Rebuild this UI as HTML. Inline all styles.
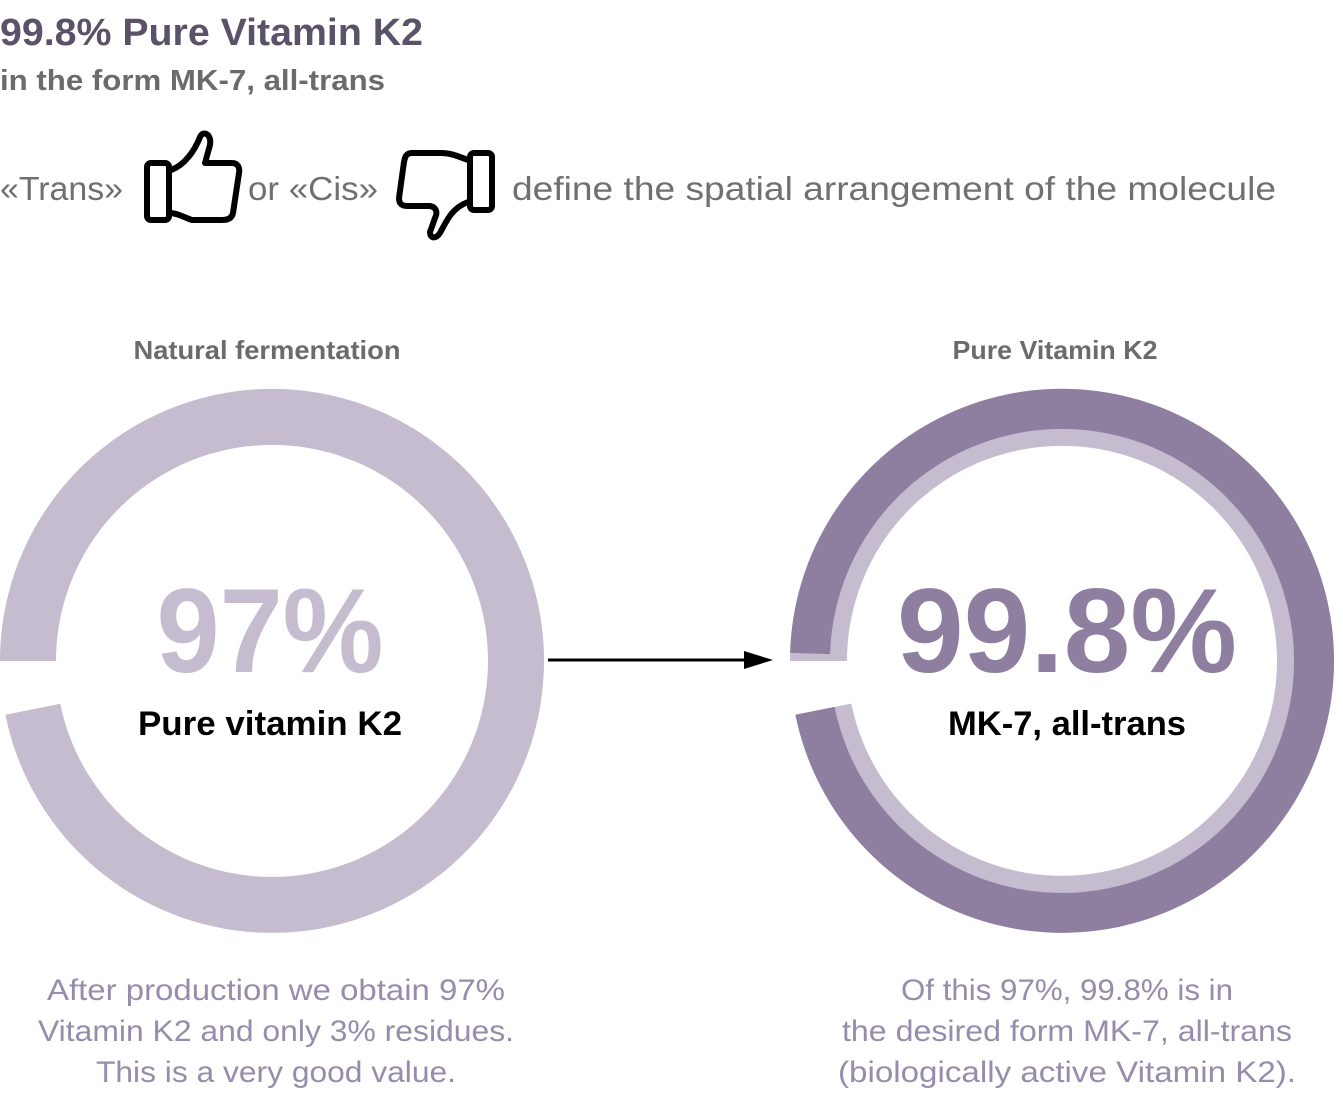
<!DOCTYPE html>
<html><head><meta charset="utf-8"><style>
html,body{margin:0;padding:0;background:#fff;}
svg{display:block;}
</style></head><body>
<svg width="1343" height="1114" viewBox="0 0 1343 1114" xmlns="http://www.w3.org/2000/svg" font-family="Liberation Sans, sans-serif">
<text x="0" y="45" font-size="38" font-weight="bold" fill="#5b5168" textLength="423" lengthAdjust="spacingAndGlyphs">99.8% Pure Vitamin K2</text>
<text x="0" y="90" font-size="29" font-weight="bold" fill="#6b6b6b" textLength="385" lengthAdjust="spacingAndGlyphs">in the form MK-7, all-trans</text>
<text x="0" y="200" font-size="33" fill="#707070" textLength="123" lengthAdjust="spacingAndGlyphs">«Trans»</text>
<text x="248" y="200" font-size="33" fill="#707070" textLength="130" lengthAdjust="spacingAndGlyphs">or «Cis»</text>
<text x="512" y="200" font-size="33" fill="#707070" textLength="764" lengthAdjust="spacingAndGlyphs">define the spatial arrangement of the molecule</text>
<g fill="none" stroke="#000" stroke-width="6" stroke-linejoin="round">
<rect x="147" y="163" width="22" height="57" rx="4"/>
<path d="M171 170 C185 165 195 150 200 137 C203 130 212 134 210 145 L205 163 L232 163 C238 163 240 168 239 173 L233 213 C232 218 228 220 222 220 L192 220 C185 218 180 214 171 213"/>
<rect x="470" y="153" width="22" height="57" rx="4"/>
<path d="M468 160 C455 155 450 153 440 153 L412 153 C406 153 405 157 404 162 L399 198 C399 204 402 206 408 206 L430 206 C436 207 438 212 435 218 L430 232 C430 239 436 239 440 233 C447 220 452 208 468 202"/>
</g>
<text x="267" y="359" font-size="26" font-weight="bold" fill="#6b6b6b" text-anchor="middle" textLength="267" lengthAdjust="spacingAndGlyphs">Natural fermentation</text>
<text x="1055" y="359" font-size="26" font-weight="bold" fill="#6b6b6b" text-anchor="middle" textLength="205" lengthAdjust="spacingAndGlyphs">Pure Vitamin K2</text>
<path d="M0 661 A272 272 0 1 1 5.4 714.8 L60.3 703.8 A216 216 0 1 0 56 661 Z" fill="#c5bccf"/>
<path d="M790 661 A272 272 0 1 1 795.4 714.8 L851.3 703.6 A215 215 0 1 0 847 661 Z" fill="#c5bccf"/>
<path d="M790.1 652.9 A272 272 0 1 1 795.4 714.8 L834.6 706.9 A232 232 0 1 0 830.1 654.1 Z" fill="#8e7fa0"/>
<line x1="548" y1="660" x2="748" y2="660" stroke="#000" stroke-width="3"/>
<polygon points="744,651 773,660 744,669" fill="#000"/>
<text x="270" y="672" font-size="120" font-weight="bold" fill="#c5bccf" text-anchor="middle" textLength="227" lengthAdjust="spacingAndGlyphs">97%</text>
<text x="270" y="735" font-size="34" font-weight="bold" fill="#000" text-anchor="middle" textLength="264" lengthAdjust="spacingAndGlyphs">Pure vitamin K2</text>
<text x="1067" y="672" font-size="120" font-weight="bold" fill="#8e7fa0" text-anchor="middle" textLength="340" lengthAdjust="spacingAndGlyphs">99.8%</text>
<text x="1067" y="735" font-size="34" font-weight="bold" fill="#000" text-anchor="middle" textLength="238" lengthAdjust="spacingAndGlyphs">MK-7, all-trans</text>
<g font-size="30" fill="#978cab" text-anchor="middle" lengthAdjust="spacingAndGlyphs">
<text x="276" y="1000" textLength="458" lengthAdjust="spacingAndGlyphs">After production we obtain 97%</text>
<text x="276" y="1041" textLength="476" lengthAdjust="spacingAndGlyphs">Vitamin K2 and only 3% residues.</text>
<text x="276" y="1082" textLength="360" lengthAdjust="spacingAndGlyphs">This is a very good value.</text>
<text x="1067" y="1000" textLength="332" lengthAdjust="spacingAndGlyphs">Of this 97%, 99.8% is in</text>
<text x="1067" y="1041" textLength="450" lengthAdjust="spacingAndGlyphs">the desired form MK-7, all-trans</text>
<text x="1067" y="1082" textLength="458" lengthAdjust="spacingAndGlyphs">(biologically active Vitamin K2).</text>
</g>
</svg>
</body></html>
